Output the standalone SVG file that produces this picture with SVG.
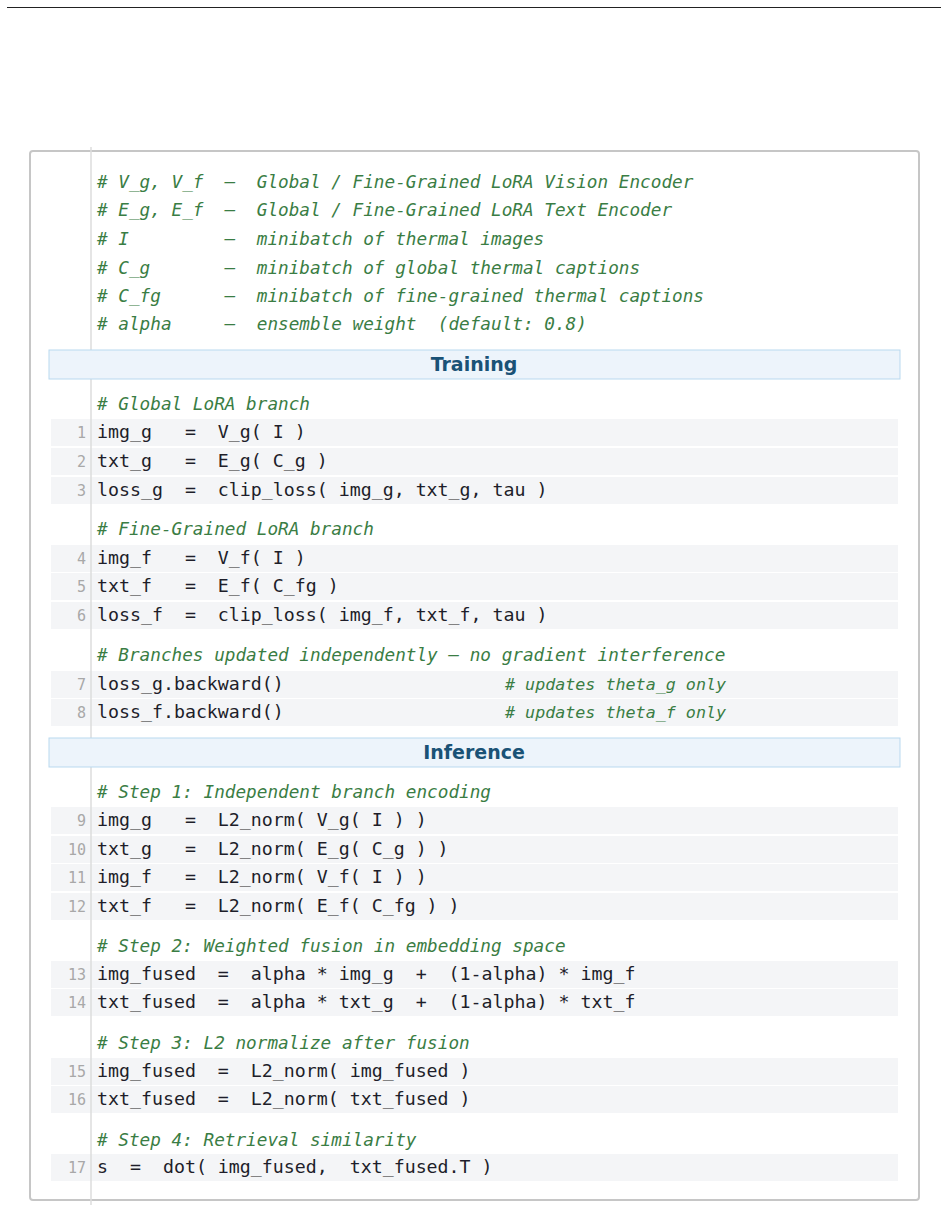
<svg xmlns="http://www.w3.org/2000/svg" width="948" height="1210" viewBox="0 0 948 1210">
<style>
.c{font-family:"DejaVu Sans Mono",monospace;font-size:17.7px;font-style:italic;fill:#3a7d44}
.ci{font-family:"DejaVu Sans Mono",monospace;font-size:16.7px;font-style:italic;fill:#3a7d44}
.k{font-family:"DejaVu Sans Mono",monospace;font-size:18.25px;fill:#1e1e2a}
.n{font-family:"DejaVu Sans Mono",monospace;font-size:15px;fill:#a8a8a8;text-anchor:end}
.r{fill:#f4f5f7}
.h{fill:#edf4fb;stroke:#b9d9ef;stroke-width:1}
.ht{font-family:"DejaVu Sans",sans-serif;font-size:19px;font-weight:bold;fill:#1a5276;text-anchor:middle}
</style>
<rect width="948" height="1210" fill="#fff"/>
<line x1="7" y1="7.5" x2="941" y2="7.5" stroke="#222" stroke-width="1"/>
<rect x="30" y="151" width="889" height="1049" rx="3" fill="#fff" stroke="#c6c6c6" stroke-width="2"/>
<g id="rows">
<rect class="r" x="51" y="419" width="847" height="27"/><rect class="r" x="51" y="448" width="847" height="27"/><rect class="r" x="51" y="477" width="847" height="27"/>
<rect class="r" x="51" y="545" width="847" height="27"/><rect class="r" x="51" y="573" width="847" height="27"/><rect class="r" x="51" y="602" width="847" height="27"/>
<rect class="r" x="51" y="671" width="847" height="27"/><rect class="r" x="51" y="699" width="847" height="27"/>
<rect class="r" x="51" y="807" width="847" height="27"/><rect class="r" x="51" y="836" width="847" height="27"/><rect class="r" x="51" y="864" width="847" height="27"/><rect class="r" x="51" y="893" width="847" height="27"/>
<rect class="r" x="51" y="961" width="847" height="27"/><rect class="r" x="51" y="989" width="847" height="27"/>
<rect class="r" x="51" y="1058" width="847" height="27"/><rect class="r" x="51" y="1086" width="847" height="27"/>
<rect class="r" x="51" y="1154" width="847" height="27"/>
</g>
<line x1="91" y1="147" x2="91" y2="1205" stroke="#dcdcdc" stroke-width="1.5"/>
<g id="header">
<text class="c" x="97" y="188" xml:space="preserve"># V_g, V_f  —  Global / Fine-Grained LoRA Vision Encoder</text>
<text class="c" x="97" y="216" xml:space="preserve"># E_g, E_f  —  Global / Fine-Grained LoRA Text Encoder</text>
<text class="c" x="97" y="245" xml:space="preserve"># I         —  minibatch of thermal images</text>
<text class="c" x="97" y="274" xml:space="preserve"># C_g       —  minibatch of global thermal captions</text>
<text class="c" x="97" y="302" xml:space="preserve"># C_fg      —  minibatch of fine-grained thermal captions</text>
<text class="c" x="97" y="330" xml:space="preserve"># alpha     —  ensemble weight  (default: 0.8)</text>
</g>
<g id="training">
<rect class="h" x="49" y="350" width="851" height="29"/>
<text class="ht" x="474" y="371">Training</text>
<text class="c" x="97" y="410"># Global LoRA branch</text>
<text class="n" x="86" y="438">1</text><text class="k" x="97" y="438" xml:space="preserve">img_g   =  V_g( I )</text>
<text class="n" x="86" y="467">2</text><text class="k" x="97" y="467" xml:space="preserve">txt_g   =  E_g( C_g )</text>
<text class="n" x="86" y="496">3</text><text class="k" x="97" y="496" xml:space="preserve">loss_g  =  clip_loss( img_g, txt_g, tau )</text>
<text class="c" x="97" y="535"># Fine-Grained LoRA branch</text>
<text class="n" x="86" y="564">4</text><text class="k" x="97" y="564" xml:space="preserve">img_f   =  V_f( I )</text>
<text class="n" x="86" y="592">5</text><text class="k" x="97" y="592" xml:space="preserve">txt_f   =  E_f( C_fg )</text>
<text class="n" x="86" y="621">6</text><text class="k" x="97" y="621" xml:space="preserve">loss_f  =  clip_loss( img_f, txt_f, tau )</text>
<text class="c" x="97" y="661"># Branches updated independently — no gradient interference</text>
<text class="n" x="86" y="690">7</text><text class="k" x="97" y="690">loss_g.backward()</text><text class="ci" x="505" y="690"># updates theta_g only</text>
<text class="n" x="86" y="718">8</text><text class="k" x="97" y="718">loss_f.backward()</text><text class="ci" x="505" y="718"># updates theta_f only</text>
</g>
<g id="inference">
<rect class="h" x="49" y="738" width="851" height="29"/>
<text class="ht" x="474" y="759">Inference</text>
<text class="c" x="97" y="798"># Step 1: Independent branch encoding</text>
<text class="n" x="86" y="826">9</text><text class="k" x="97" y="826" xml:space="preserve">img_g   =  L2_norm( V_g( I ) )</text>
<text class="n" x="86" y="855">10</text><text class="k" x="97" y="855" xml:space="preserve">txt_g   =  L2_norm( E_g( C_g ) )</text>
<text class="n" x="86" y="883">11</text><text class="k" x="97" y="883" xml:space="preserve">img_f   =  L2_norm( V_f( I ) )</text>
<text class="n" x="86" y="912">12</text><text class="k" x="97" y="912" xml:space="preserve">txt_f   =  L2_norm( E_f( C_fg ) )</text>
<text class="c" x="97" y="952"># Step 2: Weighted fusion in embedding space</text>
<text class="n" x="86" y="980">13</text><text class="k" x="97" y="980" xml:space="preserve">img_fused  =  alpha * img_g  +  (1-alpha) * img_f</text>
<text class="n" x="86" y="1008">14</text><text class="k" x="97" y="1008" xml:space="preserve">txt_fused  =  alpha * txt_g  +  (1-alpha) * txt_f</text>
<text class="c" x="97" y="1049"># Step 3: L2 normalize after fusion</text>
<text class="n" x="86" y="1077">15</text><text class="k" x="97" y="1077" xml:space="preserve">img_fused  =  L2_norm( img_fused )</text>
<text class="n" x="86" y="1105">16</text><text class="k" x="97" y="1105" xml:space="preserve">txt_fused  =  L2_norm( txt_fused )</text>
<text class="c" x="97" y="1146"># Step 4: Retrieval similarity</text>
<text class="n" x="86" y="1173">17</text><text class="k" x="97" y="1173" xml:space="preserve">s  =  dot( img_fused,  txt_fused.T )</text>
</g>
</svg>
